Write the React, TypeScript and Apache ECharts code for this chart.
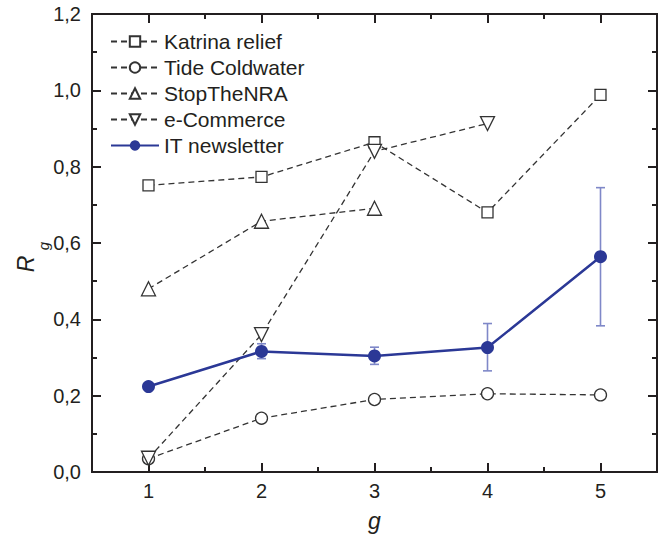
import React, { useEffect, useRef } from "react";
import * as echarts from "echarts";

const gValues = [1, 2, 3, 4, 5];
const katrina = [0.751, 0.773, 0.864, 0.68, 0.988];
const tide = [0.035, 0.141, 0.19, 0.205, 0.202];
const stopNRA = [0.48, 0.657, 0.691];
const eCommerce = [0.036, 0.36, 0.84, 0.913];
const itNews = [0.224, 0.316, 0.304, 0.326, 0.564];
const itLow = [0.218, 0.297, 0.282, 0.265, 0.383];
const itHigh = [0.23, 0.336, 0.327, 0.389, 0.745];
const xTicks = [1, 2, 3, 4, 5];
const xMinorTicks = [1.5, 2.5, 3.5, 4.5];

const FONT = "'Liberation Sans', Arial, sans-serif";
const DARK = "#231f20";
const BLUE = "#2b3896";
const ERR = "#7f88c8";

const pairs = (ys: number[]) => ys.map((y, i) => [gValues[i], y]);

export default function App() {
  const ref = useRef<HTMLDivElement>(null);
  useEffect(() => {
    if (!ref.current) return;
    const chart = echarts.init(ref.current, null, { renderer: "svg" });
    const axisLine = { show: true, lineStyle: { color: DARK, width: 2 } };
    const xAxisBase = {
      type: "value",
      min: 0.5,
      max: 5.5,
      splitLine: { show: false },
      axisLine,
    };
    const dashed = { color: "#333", width: 1.3, type: [6, 4] };
    const openItem = { color: "#fff", borderColor: "#333", borderWidth: 1.3 };
    const option: any = {
      animation: false,
      textStyle: { fontFamily: FONT },
      grid: { left: 92, top: 14, right: 7, bottom: 63 },
      xAxis: [
        {
          ...xAxisBase,
          position: "bottom",
          name: "g",
          nameLocation: "middle",
          nameGap: 37,
          nameTextStyle: { fontFamily: FONT, fontSize: 23, fontStyle: "italic", color: DARK },
          axisTick: { show: true, inside: true, length: 9, customValues: xTicks, lineStyle: { color: DARK, width: 2 } },
          axisLabel: { show: true, customValues: xTicks, fontFamily: FONT, fontSize: 20, color: DARK, margin: 9 },
        },
        {
          ...xAxisBase,
          position: "bottom",
          axisTick: { show: true, inside: true, length: 5, customValues: xMinorTicks, lineStyle: { color: DARK, width: 2 } },
          axisLabel: { show: false },
        },
        {
          ...xAxisBase,
          position: "top",
          axisTick: { show: true, inside: true, length: 9, customValues: xTicks, lineStyle: { color: DARK, width: 2 } },
          axisLabel: { show: false },
        },
        {
          ...xAxisBase,
          position: "top",
          axisTick: { show: true, inside: true, length: 5, customValues: xMinorTicks, lineStyle: { color: DARK, width: 2 } },
          axisLabel: { show: false },
        },
      ],
      yAxis: [
        {
          type: "value",
          min: 0,
          max: 1.2,
          interval: 0.2,
          position: "left",
          splitLine: { show: false },
          axisLine,
          axisTick: { show: true, inside: true, length: 9, lineStyle: { color: DARK, width: 2 } },
          minorTick: { show: true, splitNumber: 2, length: 5, lineStyle: { color: DARK, width: 2 } },
          axisLabel: {
            fontFamily: FONT,
            fontSize: 20,
            color: DARK,
            margin: 11,
            formatter: (v: number) => v.toFixed(1).replace(".", ","),
          },
        },
        {
          type: "value",
          min: 0,
          max: 1.2,
          interval: 0.2,
          position: "right",
          splitLine: { show: false },
          axisLine,
          axisTick: { show: true, inside: true, length: 9, lineStyle: { color: DARK, width: 2 } },
          minorTick: { show: true, splitNumber: 2, length: 5, lineStyle: { color: DARK, width: 2 } },
          axisLabel: { show: false },
        },
      ],
      legend: {
        orient: "vertical",
        left: 110,
        top: 31,
        padding: 0,
        itemWidth: 48,
        itemHeight: 13,
        itemGap: 5,
        textStyle: { fontFamily: FONT, fontSize: 21, color: DARK },
        data: ["Katrina relief", "Tide Coldwater", "StopTheNRA", "e-Commerce", "IT newsletter"],
      },
      graphic: [
        {
          type: "text",
          x: 26,
          y: 264,
          rotation: Math.PI / 2,
          style: { text: "R", font: `italic 23px ${FONT}`, fill: DARK, align: "center", verticalAlign: "middle" },
        },
        {
          type: "text",
          x: 43,
          y: 246,
          rotation: Math.PI / 2,
          style: { text: "g", font: `italic 15px ${FONT}`, fill: DARK, align: "center", verticalAlign: "middle" },
        },
      ],
      series: [
        {
          name: "Katrina relief",
          type: "line",
          data: pairs(katrina),
          symbol: "rect",
          symbolSize: 11,
          lineStyle: dashed,
          itemStyle: openItem,
        },
        {
          name: "Tide Coldwater",
          type: "line",
          data: pairs(tide),
          symbol: "circle",
          symbolSize: 12,
          lineStyle: dashed,
          itemStyle: openItem,
        },
        {
          name: "StopTheNRA",
          type: "line",
          data: pairs(stopNRA),
          symbol: "triangle",
          symbolSize: 14,
          lineStyle: dashed,
          itemStyle: openItem,
        },
        {
          name: "e-Commerce",
          type: "line",
          data: pairs(eCommerce),
          symbol: "triangle",
          symbolRotate: 180,
          symbolSize: 14,
          lineStyle: dashed,
          itemStyle: openItem,
        },
        {
          name: "IT error",
          type: "custom",
          data: gValues.map((g, i) => [g, itLow[i], itHigh[i]]),
          renderItem: (params: any, api: any) => {
            const x = api.value(0);
            const lo = api.coord([x, api.value(1)]);
            const hi = api.coord([x, api.value(2)]);
            const cap = 4.5;
            const st = { stroke: ERR, lineWidth: 1.6 };
            return {
              type: "group",
              children: [
                { type: "line", shape: { x1: lo[0], y1: lo[1], x2: hi[0], y2: hi[1] }, style: st },
                { type: "line", shape: { x1: lo[0] - cap, y1: lo[1], x2: lo[0] + cap, y2: lo[1] }, style: st },
                { type: "line", shape: { x1: hi[0] - cap, y1: hi[1], x2: hi[0] + cap, y2: hi[1] }, style: st },
              ],
            };
          },
        },
        {
          name: "IT newsletter",
          type: "line",
          data: pairs(itNews),
          symbol: "circle",
          symbolSize: 13,
          lineStyle: { color: BLUE, width: 2.5 },
          itemStyle: { color: BLUE },
        },
      ],
    };
    chart.setOption(option);
    return () => chart.dispose();
  }, []);
  return (
    <div
      ref={ref}
      style={{ position: "absolute", left: 0, top: 0, width: 664, height: 537 }}
    />
  );
}
